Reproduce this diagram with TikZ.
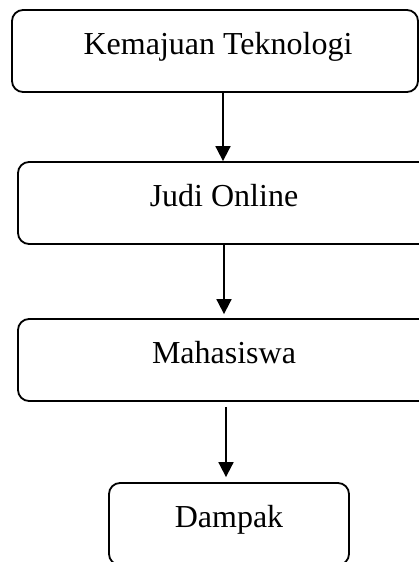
\documentclass[tikz,border=0pt]{standalone}
\usepackage{fontspec}
\setmainfont{Liberation Serif}
\usetikzlibrary{arrows.meta}
\begin{document}
\begin{tikzpicture}[x=1pt,y=1pt,
  flowbox/.style={draw, line width=1.8pt, rounded corners=11pt, minimum height=82pt,
    inner sep=0pt, text height=15pt, text depth=8pt,
    font=\fontsize{32}{38}\selectfont},
  arr/.style={-{Triangle[width=15pt,length=15pt]}, line width=1.8pt}]
\useasboundingbox (0,0) rectangle (419,562);
\clip (0,0) rectangle (419,562);
\node[flowbox, minimum width=406pt] (b1) at (215,511) {\hspace*{6pt}Kemajuan Teknologi};
\node[flowbox, minimum width=412pt] (b2) at (224,359) {Judi Online};
\node[flowbox, minimum width=412pt] (b3) at (224,202) {Mahasiswa};
\node[flowbox, minimum width=240pt] (b4) at (229,38) {Dampak};
\coordinate (x1) at (223,0);
\coordinate (x2) at (224,0);
\coordinate (x3) at (226,0);
\draw[arr] (b1.south -| x1) -- (b2.north -| x1);
\draw[arr, shorten >=4pt] (b2.south -| x2) -- (b3.north -| x2);
\draw[arr, shorten <=5pt, shorten >=5pt] (b3.south -| x3) -- (b4.north -| x3);
\end{tikzpicture}
\end{document}
